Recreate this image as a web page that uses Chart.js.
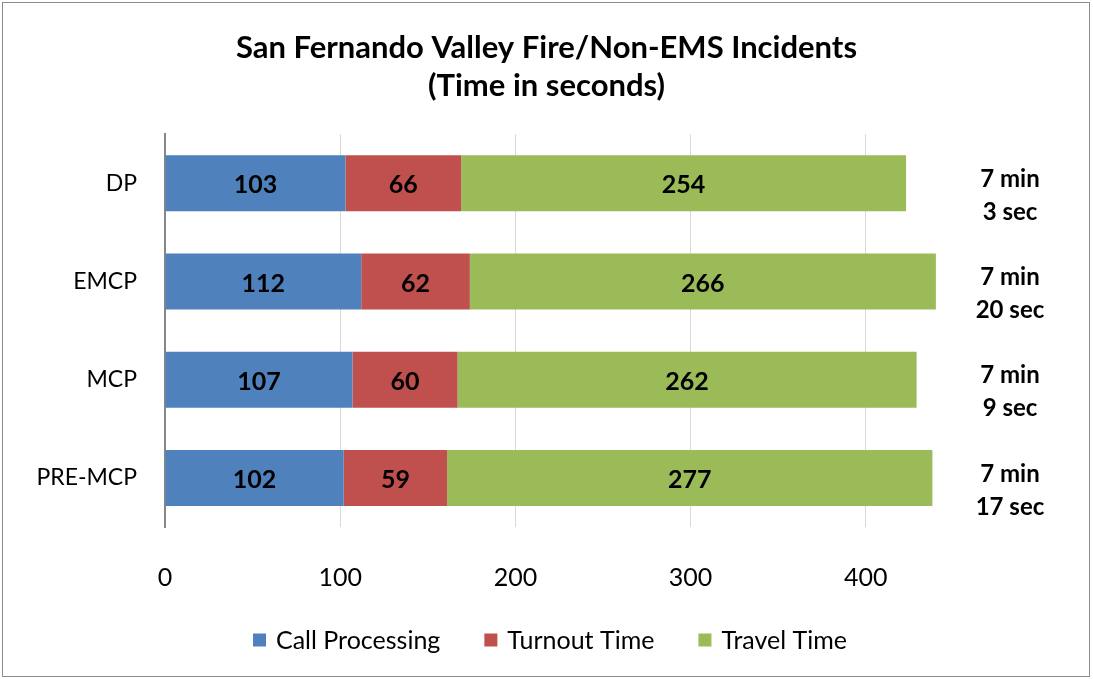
<!DOCTYPE html>
<html>
<head>
<meta charset="utf-8">
<script src="https://cdn.jsdelivr.net/npm/chart.js@4"></script>
<style>
  html, body { margin: 0; padding: 0; background: #fff; }
  #wrap { position: relative; width: 1093px; height: 679px; }
  #frame { position: absolute; left: 2px; top: 2px; width: 1086px; height: 673px; border: 1px solid #8c8c8c; pointer-events: none; }
</style>
</head>
<body>
<div id="wrap">
  <canvas id="grafico" width="1093" height="679"></canvas>
  <div id="frame"></div>
</div>
<script>
// dados do gráfico
const categorias = ['DP', 'EMCP', 'MCP', 'PRE-MCP'];
const callProcessing = [103, 112, 107, 102];
const turnoutTime = [66, 62, 60, 59];
const travelTime = [254, 266, 262, 277];
const totais = [['7 min', '3 sec'], ['7 min', '20 sec'], ['7 min', '9 sec'], ['7 min', '17 sec']];
const ticksX = [0, 100, 200, 300, 400];

const fonte = "Lato, 'Open Sans', sans-serif";

// rótulos dentro das barras, totais à direita e legenda
const rotulosBarras = {
    id: 'rotulosBarras',
    afterDatasetsDraw(chart) {
        const ctx = chart.ctx;
        ctx.save();
        ctx.font = 'bold 25px ' + fonte;
        ctx.fillStyle = '#000';
        ctx.textAlign = 'center';
        ctx.textBaseline = 'middle';
        chart.data.datasets.forEach((ds, i) => {
            const meta = chart.getDatasetMeta(i);
            meta.data.forEach((el, j) => {
                const x = (el.x + el.base) / 2;
                ctx.fillText(ds.data[j], x, el.y + 2);
            });
        });
        ctx.font = 'bold 24px ' + fonte;
        const y = chart.scales.y;
        totais.forEach((linhas, j) => {
            const cy = y.getPixelForValue(j) + 12;
            ctx.fillText(linhas[0], 1010, cy - 16);
            ctx.fillText(linhas[1], 1010, cy + 17);
        });

        // legenda
        ctx.font = '25px ' + fonte;
        ctx.textAlign = 'left';
        const caixa = 13, espaco = 10, entre = 44;
        const larguras = chart.data.datasets.map(ds => caixa + espaco + ctx.measureText(ds.label).width);
        const total = larguras.reduce((a, b) => a + b, 0) + entre * (larguras.length - 1);
        let x = 550 - total / 2;
        const ly = 640;
        chart.data.datasets.forEach((ds, i) => {
            ctx.fillStyle = ds.backgroundColor;
            ctx.fillRect(x, ly - caixa / 2, caixa, caixa);
            ctx.fillStyle = '#000';
            ctx.fillText(ds.label, x + caixa + espaco, ly + 1);
            x += larguras[i] + entre;
        });
        ctx.restore();
    }
};

const ctx = document.getElementById('grafico').getContext('2d');
new Chart(ctx, {
    type: 'bar',
    data: {
        labels: categorias,
        datasets: [
            { label: 'Call Processing', data: callProcessing, backgroundColor: '#4F81BD' },
            { label: 'Turnout Time', data: turnoutTime, backgroundColor: '#C0504D' },
            { label: 'Travel Time', data: travelTime, backgroundColor: '#9BBB59' },
        ],
    },
    options: {
        indexAxis: 'y',
        responsive: false,
        animation: false,
        layout: { padding: 0 },
        datasets: { bar: { categoryPercentage: 1, barPercentage: 0.57 } },
        plugins: {
            title: {
                display: true,
                text: ['San Fernando Valley Fire/Non-EMS Incidents', '(Time in seconds)'],
                color: '#000',
                font: { family: fonte, size: 31, weight: 'bold', lineHeight: 1.23 },
                padding: { top: 29, bottom: 29 },
            },
            legend: { display: false },
            tooltip: { enabled: false },
        },
        scales: {
            x: {
                stacked: true,
                min: 0,
                max: 500,
                afterBuildTicks: (scale) => {
                    scale.ticks = ticksX.map(v => ({ value: v }));
                },
                afterFit: (scale) => { scale.height = 152; },
                grid: { color: '#d9d9d9', drawTicks: false },
                border: { display: false },
                ticks: { color: '#000', font: { family: fonte, size: 25 }, padding: 36 },
            },
            y: {
                stacked: true,
                grid: { display: false },
                border: { display: true, color: '#868686', width: 2 },
                afterFit: (scale) => { scale.width = 165; },
                ticks: { color: '#000', font: { family: fonte, size: 23 }, padding: 20 },
            },
            // eixo vazio à direita, só para reservar espaço
            y2: {
                position: 'right',
                grid: { display: false },
                border: { display: false },
                ticks: { display: false },
                afterFit: (scale) => { scale.width = 52; },
            },
        },
    },
    plugins: [rotulosBarras],
});
</script>
</body>
</html>
